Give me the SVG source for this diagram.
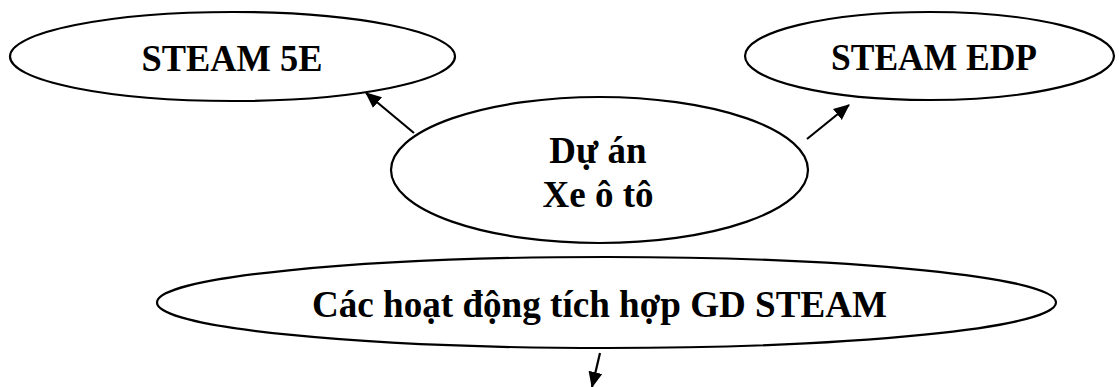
<svg xmlns="http://www.w3.org/2000/svg" width="1119" height="387" viewBox="0 0 1119 387">
<style>
.node ellipse{fill:#fff;stroke:#000;stroke-width:2.2}
.node text{font-family:"Liberation Serif","Times New Roman",serif;font-weight:bold;font-size:37px;fill:#000;text-anchor:middle}
.edge{stroke:#000;stroke-width:2.2;fill:none;marker-end:url(#arr)}
</style>
<defs>
<marker id="arr" markerUnits="userSpaceOnUse" markerWidth="16" markerHeight="16" refX="15" refY="8" orient="auto">
<path d="M0,1 L16,8 L0,15 z" fill="#000"/>
</marker>
</defs>
<rect width="1119" height="387" fill="#fff"/>
<g id="n-5e" class="node">
<ellipse cx="232.5" cy="56.5" rx="222.5" ry="44.5"/>
<text x="232" y="71" textLength="181" lengthAdjust="spacingAndGlyphs">STEAM 5E</text>
</g>
<g id="n-edp" class="node">
<ellipse cx="929.5" cy="56" rx="184.5" ry="44"/>
<text x="934" y="70" textLength="206" lengthAdjust="spacingAndGlyphs">STEAM EDP</text>
</g>
<g id="n-duan" class="node">
<ellipse cx="599.5" cy="170" rx="208.5" ry="73"/>
<text x="598" y="163">Dự án</text>
<text x="598" y="207">Xe ô tô</text>
</g>
<g id="n-hd" class="node">
<ellipse cx="606.5" cy="302.5" rx="449.5" ry="45.5"/>
<text x="599.5" y="317" textLength="575" lengthAdjust="spacingAndGlyphs">Các hoạt động tích hợp GD STEAM</text>
</g>
<g id="connectors">
<line class="edge" x1="414" y1="133" x2="366" y2="93"/>
<line class="edge" x1="807" y1="139" x2="849" y2="105"/>
<line class="edge" x1="600" y1="353" x2="592" y2="387"/>
</g>
</svg>
